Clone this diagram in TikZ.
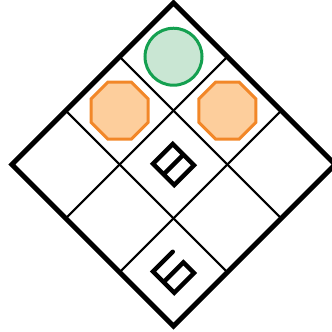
\documentclass[tikz,border=0pt]{standalone}
\usepackage{tikz}
\usetikzlibrary{shapes.geometric}
\definecolor{vertPion}{RGB}{20,160,80}
\definecolor{vertClair}{RGB}{201,230,211}
\definecolor{orangePion}{RGB}{242,135,40}
\definecolor{orangeClair}{RGB}{253,206,156}

\begin{document}
\begin{tikzpicture}[x=0.25mm,y=0.25mm,
  cadre/.style={line width=1.25mm,line join=miter},
  trait/.style={line width=0.5mm},
  chiffre/.style={line width=1.1mm,line cap=round,line join=miter},
  rond/.style={circle,draw=vertPion,fill=vertClair,line width=0.75mm,
    minimum size=14.25mm,inner sep=0pt},
  octo/.style={regular polygon,regular polygon sides=8,draw=orangePion,
    fill=orangeClair,line width=0.75mm,minimum size=15.4mm,inner sep=0pt}]
  \useasboundingbox (0,0) rectangle (332,332);
  \begin{scope}[shift={(173.5,167.5)},rotate=45]
    % Grille 3x3
    \foreach \k in {-38.1,38.1}{
      \draw[trait] (\k,-114.3)--(\k,114.3);
      \draw[trait] (-114.3,\k)--(114.3,\k);
    }
    \draw[cadre] (-114.3,-114.3) rectangle (114.3,114.3);
    % Pions
    \node[rond] (pionH) at (76.2,76.2) {};
    \node[octo] (octoG) at (0,76.2) {};
    \node[octo] (octoD) at (76.2,0) {};
    % Chiffres 8 et 6
    \draw[chiffre] (-14,-15) rectangle (14,15) (-14,0)--(14,0);
    \draw[chiffre] (-62.2,-61.2) -- ++(-28,0) -- ++(0,-30) -- ++(28,0)
      -- ++(0,15) -- ++(-28,0);
  \end{scope}
\end{tikzpicture}
\end{document}
